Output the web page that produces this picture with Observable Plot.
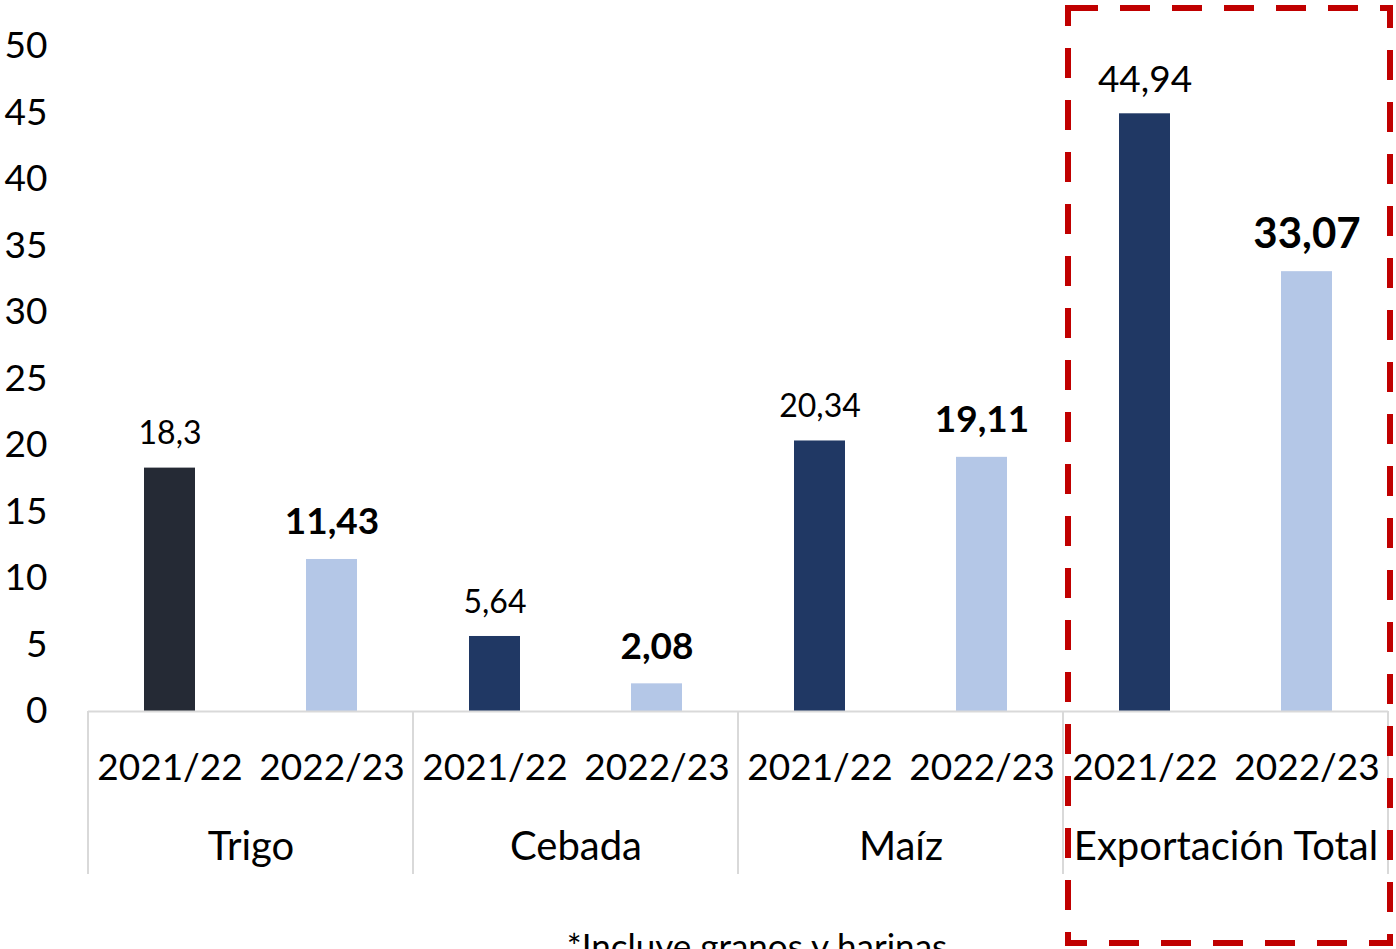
<!DOCTYPE html>
<html>
<head>
<meta charset="utf-8">
<script src="https://cdn.jsdelivr.net/npm/d3@7"></script>
<script src="https://cdn.jsdelivr.net/npm/@observablehq/plot@0.6"></script>
<style>
  html, body { margin: 0; padding: 0; background: #fff; overflow: hidden; }
  svg { overflow: visible; }
</style>
</head>
<body>
<div id="chart"></div>
<script>
const categories = ["Trigo", "Cebada", "Maíz", "Exportación Total"];
const years = ["2021/22", "2022/23"];
const values2021 = [18.3, 5.64, 20.34, 44.94];
const values2022 = [11.43, 2.08, 19.11, 33.07];
const yTicks = [0, 5, 10, 15, 20, 25, 30, 35, 40, 45, 50];
const caption = "*Incluye granos y harinas";

const rows = [];
categories.forEach((c, i) => {
  rows.push({cat: c, year: years[0], value: values2021[i]});
  rows.push({cat: c, year: years[1], value: values2022[i]});
});
const fmt = v => String(v).replace(".", ",");
const fillOf = d => d.year === years[1] ? "#b4c7e7" : (d.cat === "Trigo" ? "#252a35" : "#203864");

const plot = Plot.plot({
  width: 1396,
  height: 949,
  marginTop: 46,
  marginBottom: 238,
  marginLeft: 88,
  marginRight: 8,
  style: {fontFamily: "Lato, 'Open Sans', sans-serif", fontSize: "37px", color: "#000", background: "#fff"},
  fx: {domain: categories, padding: 0, label: null, axis: "bottom", tickSize: 0, tickPadding: 120},
  x: {domain: years, paddingInner: 0.686, paddingOuter: 0.343, label: null, tickSize: 0, tickPadding: 42},
  y: {domain: [0, 50], ticks: yTicks, label: null, tickSize: 0, tickPadding: 41},
  marks: [
    Plot.barY(rows, {fx: "cat", x: "year", y: "value", fill: fillOf}),
    Plot.ruleY([0], {stroke: "#d9d9d9", strokeWidth: 2}),
    Plot.text(rows.filter(d => d.year === years[0]), {
      fx: "cat", x: "year", y: "value", text: d => fmt(d.value),
      dy: -34, fontSize: d => d.cat === "Exportación Total" ? 37 : 32, fill: "#000"
    }),
    Plot.text(rows.filter(d => d.year === years[1]), {
      fx: "cat", x: "year", y: "value", text: d => fmt(d.value),
      dy: -37, fontWeight: "bold", fontSize: d => d.cat === "Exportación Total" ? 42 : 37, fill: "#000"
    })
  ]
});
document.getElementById("chart").appendChild(plot);

const svg = d3.select(plot);
// larger category labels
svg.selectAll('[aria-label="fx-axis tick label"], [aria-label="fx-axis"]').attr("font-size", 40);

// separators, caption and highlight box
const fx = plot.scale("fx");
const y = plot.scale("y");
const y0 = y.apply(0);
const bw = fx.bandwidth;
const edges = categories.map(c => fx.apply(c)).concat([fx.apply(categories[categories.length - 1]) + bw]);
svg.append("g").selectAll("line").data(edges).join("line")
  .attr("x1", d => d).attr("x2", d => d)
  .attr("y1", y0).attr("y2", y0 + 163)
  .attr("stroke", "#d9d9d9").attr("stroke-width", 2);

svg.append("text")
  .attr("x", 757)
  .attr("y", 959)
  .attr("text-anchor", "middle")
  .attr("font-family", "Lato, 'Open Sans', sans-serif")
  .attr("font-size", 35)
  .attr("fill", "#000")
  .text(caption);

const bx = fx.apply(categories[3]) + 5;
svg.append("rect")
  .attr("x", bx).attr("y", 8)
  .attr("width", 1390 - bx).attr("height", 935)
  .attr("fill", "none")
  .attr("stroke", "#c00000").attr("stroke-width", 6)
  .attr("stroke-dasharray", "30 22");
</script>
</body>
</html>
